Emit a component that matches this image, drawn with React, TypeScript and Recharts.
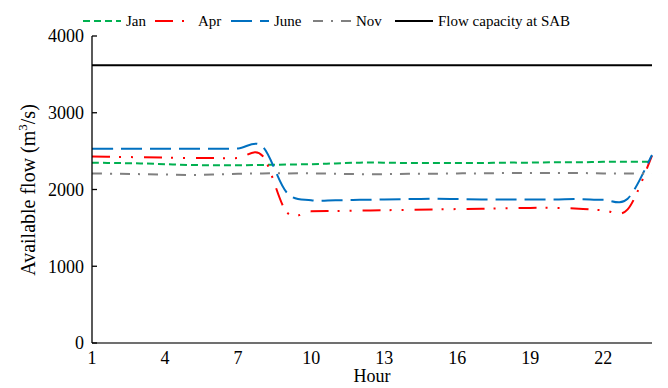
import React from 'react';
import { LineChart, Line, XAxis, YAxis, Legend, Label } from 'recharts';

const hours = [1, 2, 3, 4, 5, 6, 7, 8, 9, 10, 11, 12, 13, 14, 15, 16, 17, 18, 19, 20, 21, 22, 23, 24];
const jan = [2350, 2345, 2340, 2330, 2320, 2315, 2315, 2320, 2325, 2330, 2340, 2350, 2350, 2345, 2345, 2345, 2345, 2350, 2350, 2355, 2355, 2360, 2360, 2360];
const apr = [2430, 2425, 2420, 2415, 2410, 2410, 2410, 2440, 1705, 1715, 1720, 1725, 1730, 1735, 1740, 1745, 1750, 1755, 1760, 1760, 1750, 1730, 1740, 2440];
const june = [2530, 2530, 2530, 2530, 2530, 2530, 2535, 2560, 1960, 1860, 1860, 1865, 1870, 1875, 1880, 1875, 1870, 1870, 1870, 1870, 1875, 1865, 1880, 2450];
const nov = [2210, 2205, 2200, 2195, 2190, 2195, 2205, 2210, 2210, 2210, 2205, 2200, 2200, 2205, 2205, 2210, 2210, 2215, 2215, 2215, 2215, 2210, 2210, 2210];
const capacity = [3620, 3620, 3620, 3620, 3620, 3620, 3620, 3620, 3620, 3620, 3620, 3620, 3620, 3620, 3620, 3620, 3620, 3620, 3620, 3620, 3620, 3620, 3620, 3620];

const xTicks = [1, 4, 7, 10, 13, 16, 19, 22];
const yTicks = [0, 1000, 2000, 3000, 4000];

const SERIES = [
  { key: 'jan', name: 'Jan', color: '#00B050', dash: '7 4', smooth: true },
  { key: 'apr', name: 'Apr', color: '#FF0000', dash: '18 9 2 10 2 11', smooth: true },
  { key: 'june', name: 'June', color: '#0070C0', dash: '21 8', smooth: true },
  { key: 'nov', name: 'Nov', color: '#808080', dash: '10 8 2 8', smooth: true },
  { key: 'cap', name: 'Flow capacity at SAB', color: '#000000', dash: undefined, smooth: false },
];

const data = hours.map((h, i) => ({
  hour: h,
  jan: jan[i],
  apr: apr[i],
  june: june[i],
  nov: nov[i],
  cap: capacity[i],
}));

const FONT = 'Liberation Serif, Times New Roman, serif';
const LEGEND_TEXT_X = [126, 198, 274, 356, 438];

// Catmull-Rom style smoothing (similar to spreadsheet "smoothed line")
const catmullRom = (context: any) => {
  let pts: number[][] = [];
  return {
    areaStart() {},
    areaEnd() {},
    lineStart() {
      pts = [];
    },
    point(x: number, y: number) {
      pts.push([+x, +y]);
    },
    lineEnd() {
      const n = pts.length;
      if (!n) return;
      context.moveTo(pts[0][0], pts[0][1]);
      for (let i = 0; i < n - 1; i++) {
        const p0 = pts[i - 1] || pts[i];
        const p1 = pts[i];
        const p2 = pts[i + 1];
        const p3 = pts[i + 2] || pts[i + 1];
        context.bezierCurveTo(
          p1[0] + (p2[0] - p0[0]) / 6,
          p1[1] + (p2[1] - p0[1]) / 6,
          p2[0] - (p3[0] - p1[0]) / 6,
          p2[1] - (p3[1] - p1[1]) / 6,
          p2[0],
          p2[1]
        );
      }
    },
  };
};

const LegendContent = () => (
  <div style={{ position: 'relative', width: 668, height: 22, fontFamily: FONT, fontSize: 15, color: '#000' }}>
    {SERIES.map((s, i) => (
      <div
        key={s.key}
        style={{
          position: 'absolute',
          left: LEGEND_TEXT_X[i] - 43,
          top: 0,
          height: 22,
          display: 'flex',
          alignItems: 'center',
          whiteSpace: 'nowrap',
        }}
      >
        <svg width={38} height={4} style={{ display: 'block' }}>
          <line x1={0} y1={2} x2={38} y2={2} stroke={s.color} strokeWidth={2} strokeDasharray={s.dash} />
        </svg>
        <span style={{ marginLeft: 5, lineHeight: '22px' }}>{s.name}</span>
      </div>
    ))}
  </div>
);

const YTick = (props: any) => {
  const { x, y, payload } = props;
  return (
    <g>
      <line x1={x + 8} y1={y} x2={x + 13} y2={y} stroke="#000" strokeWidth={1.3} />
      <text x={x} y={y} dy="0.35em" textAnchor="end" fontFamily={FONT} fontSize={18} fill="#000">
        {payload.value}
      </text>
    </g>
  );
};

const YTitle = () => (
  <text
    x={35}
    y={190}
    transform="rotate(-90 35 190)"
    textAnchor="middle"
    fontFamily={FONT}
    fontSize={20}
    fill="#000"
  >
    <tspan>Available flow (m</tspan>
    <tspan dy={-8} fontSize={13}>3</tspan>
    <tspan dy={8}>/s)</tspan>
  </text>
);

const XTitle = () => (
  <text x={372} y={382} textAnchor="middle" fontFamily={FONT} fontSize={18} fill="#000">
    Hour
  </text>
);

export default function App() {
  return (
    <div style={{ position: 'absolute', left: 0, top: 0, width: 668, height: 388, background: '#fff' }}>
      <LineChart width={668} height={388} data={data} margin={{ top: 14, right: 16, bottom: 0, left: 0 }}>
        <Legend
          verticalAlign="top"
          align="left"
          content={<LegendContent />}
          wrapperStyle={{ top: 10, left: 0, width: 668, height: 22 }}
        />
        <XAxis
          dataKey="hour"
          type="number"
          domain={[1, 24]}
          ticks={xTicks}
          interval={0}
          height={45}
          tickLine={false}
          tickMargin={2}
          axisLine={{ stroke: '#404040', strokeWidth: 1.3 }}
          tick={{ fontFamily: FONT, fontSize: 18, fill: '#000' }}
        >
          <Label content={<XTitle />} />
        </XAxis>
        <YAxis
          type="number"
          domain={[0, 4000]}
          ticks={yTicks}
          interval={0}
          width={92}
          tickLine={false}
          tickSize={6}
          tickMargin={2}
          axisLine={{ stroke: '#000', strokeWidth: 1.3 }}
          tick={<YTick />}
        >
          <Label content={<YTitle />} />
        </YAxis>
        {SERIES.map((s) => (
          <Line
            key={s.key}
            dataKey={s.key}
            name={s.name}
            type={s.smooth ? (catmullRom as any) : 'linear'}
            stroke={s.color}
            strokeWidth={2}
            strokeDasharray={s.dash}
            dot={false}
            activeDot={false}
            isAnimationActive={false}
          />
        ))}
      </LineChart>
    </div>
  );
}
